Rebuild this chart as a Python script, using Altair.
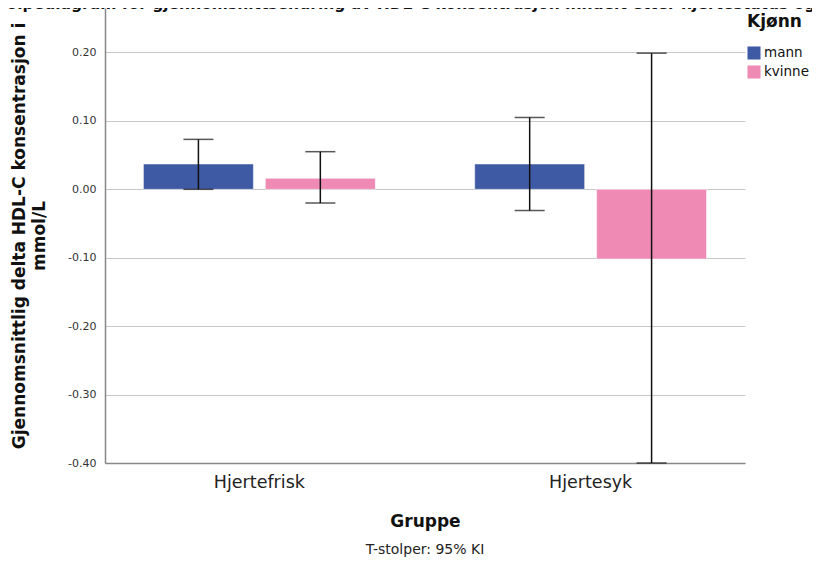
import altair as alt
import pandas as pd

groups = ["Hjertefrisk", "Hjertefrisk", "Hjertesyk", "Hjertesyk"]
sexes = ["mann", "kvinne", "mann", "kvinne"]
means = [0.037, 0.016, 0.037, -0.102]
ci_low = [0.000, -0.020, -0.031, -0.400]
ci_high = [0.073, 0.055, 0.105, 0.199]
y_ticks = [-0.4, -0.3, -0.2, -0.1, 0.0, 0.1, 0.2]
title_text = "Stolpediagram for gjennomsnittsendring av HDL-C konsentrasjon inndelt etter hjertestatus og kjønn"
footnote = "T-stolper: 95% KI"

df = pd.DataFrame({"Gruppe": groups, "Kjønn": sexes, "mean": means,
                   "lo": ci_low, "hi": ci_high})

FONT = "DejaVu Sans"
sex_order = ["mann", "kvinne"]
colors = ["#3f5aa4", "#ee8ab4"]

x = alt.X("Gruppe:N", title="Gruppe",
          scale=alt.Scale(paddingInner=0.3, paddingOuter=0.116),
          axis=alt.Axis(labelAngle=0, labelFontSize=17.5, labelColor="#222",
                        labelFont=FONT, titleFont=FONT, titleFontSize=17,
                        titleFontWeight="bold", titleColor="#111",
                        titlePadding=23, labelPadding=10, ticks=False,
                        domainColor="#888", domainWidth=1.5))
xoff = alt.XOffset("Kjønn:N", sort=sex_order,
                   scale=alt.Scale(paddingInner=0.098, paddingOuter=0))

y_scale = alt.Scale(domain=[-0.40, 0.265], nice=False, zero=False)

bars = alt.Chart(df).mark_bar(stroke="#ffffff", strokeWidth=0.5).encode(
    x=x,
    xOffset=xoff,
    y=alt.Y("mean:Q", scale=y_scale,
            title=["Gjennomsnittlig delta HDL-C konsentrasjon i", "mmol/L"],
            axis=alt.Axis(values=y_ticks,
                          labelExpr="replace(format(datum.value, '.2f'), '\u2212', '-')",
                          labelFont=FONT, labelFontSize=11,
                          labelColor="#333", ticks=False, labelPadding=9,
                          grid=True, gridColor="#c8c8c8", gridWidth=1.2,
                          domainColor="#888", domainWidth=1.5,
                          titleFont=FONT, titleFontSize=17, titleFontWeight="bold",
                          titleColor="#111", titlePadding=19,
                          titleLineHeight=20)),
    y2=alt.datum(0),
    color=alt.Color("Kjønn:N", sort=sex_order,
                    scale=alt.Scale(domain=sex_order, range=colors),
                    legend=alt.Legend(orient="none", legendX=642, legendY=6,
                                      padding=0,
                                      title="Kjønn", titleFont=FONT,
                                      titleFontSize=17, titleFontWeight="bold",
                                      titleColor="#111", labelFont=FONT,
                                      labelFontSize=13.5, labelColor="#111",
                                      labelOffset=3,
                                      symbolType="square", symbolSize=170,
                                      symbolStrokeWidth=0, rowPadding=5,
                                      titlePadding=15)),
)

rules = alt.Chart(df).mark_rule(color="#111", strokeWidth=1.5).encode(
    x=alt.X("Gruppe:N"), xOffset=alt.XOffset("Kjønn:N", sort=sex_order),
    y=alt.Y("lo:Q"), y2="hi:Q")

cap_lo = alt.Chart(df).mark_tick(color="#111", thickness=1.5, size=30,
                                 orient="horizontal").encode(
    x=alt.X("Gruppe:N"), xOffset=alt.XOffset("Kjønn:N", sort=sex_order),
    y=alt.Y("lo:Q"))
cap_hi = alt.Chart(df).mark_tick(color="#111", thickness=1.5, size=30,
                                 orient="horizontal").encode(
    x=alt.X("Gruppe:N"), xOffset=alt.XOffset("Kjønn:N", sort=sex_order),
    y=alt.Y("hi:Q"))

foot = alt.Chart(pd.DataFrame({"t": [footnote]})).mark_text(
    font=FONT, fontSize=14, color="#222", align="center", baseline="middle"
).encode(x=alt.value(320), y=alt.value(542), text="t:N")

head = alt.Chart(pd.DataFrame({"t": [title_text]})).mark_text(
    font=FONT, fontSize=15.5, fontWeight="bold", color="#111",
    align="left", baseline="alphabetic"
).encode(x=alt.value(-117), y=alt.value(1), text="t:N")

chart = alt.layer(bars, rules, cap_lo, cap_hi, foot, head).properties(
    width=640, height=455,
    autosize=alt.AutoSizeParams(type="none"),
    padding={"left": 97, "top": 0, "right": 67, "bottom": 95},
).configure_view(stroke=None)

chart.save("out.html", embed_options={"renderer": "svg", "actions": False})
